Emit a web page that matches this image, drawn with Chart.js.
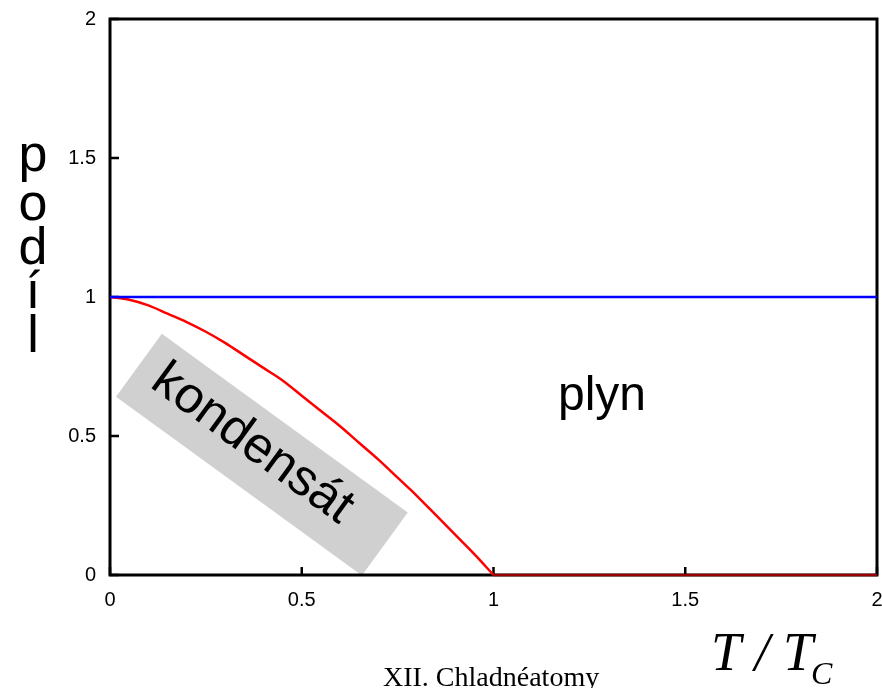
<!DOCTYPE html>
<html>
<head>
<meta charset="utf-8">
<script src="https://cdn.jsdelivr.net/npm/chart.js@4.4.1/dist/chart.umd.min.js"></script>
<style>
  html, body { margin: 0; padding: 0; background: #fff; }
  #wrap { width: 882px; height: 688px; position: relative; }
</style>
</head>
<body>
<div id="wrap"><canvas id="chart"></canvas></div>
<script>
// podíl kondenzátu pod Tc
const condT = [0, 0.05, 0.1, 0.15, 0.2, 0.25, 0.3, 0.35, 0.4, 0.45, 0.5,
               0.55, 0.6, 0.65, 0.7, 0.75, 0.8, 0.85, 0.9, 0.95, 1.0];
const condFrac = [1.00, 0.99, 0.97, 0.94, 0.91, 0.875, 0.835, 0.79, 0.745, 0.70, 0.645,
                  0.59, 0.535, 0.475, 0.415, 0.35, 0.285, 0.215, 0.145, 0.075, 0.00];
// nad Tc je kondenzát nulový
const aboveT = [1, 2];
const aboveFrac = [0, 0];
// celkový podíl
const totalT = [0, 2];
const totalFrac = [1, 1];

const axisTicks = [0, 0.5, 1, 1.5, 2];
const yLetters = ['p', 'o', 'd', 'í', 'l'];

const zip = (xs, ys) => xs.map((x, i) => ({ x: x, y: ys[i] }));

const sans = '"Liberation Sans", Arial, sans-serif';
const serif = '"Liberation Serif", "Times New Roman", serif';

const framePlugin = {
    id: 'frame',
    beforeDatasetsDraw(chart) {
        const { ctx, chartArea: a, scales } = chart;
        // šedý štítek "kondensát" (pod rámem)
        const cx = scales.x.getPixelForValue(0.396);
        const cy = scales.y.getPixelForValue(0.433);
        ctx.save();
        ctx.translate(cx, cy);
        ctx.rotate(36 * Math.PI / 180);
        ctx.fillStyle = '#d0d0d0';
        ctx.fillRect(-152, -39, 304, 78);
        ctx.restore();

        ctx.save();
        ctx.strokeStyle = '#000';
        ctx.lineWidth = 3;
        ctx.strokeRect(a.left, a.top, a.right - a.left, a.bottom - a.top);
        ctx.lineWidth = 2.5;
        ctx.beginPath();
        axisTicks.forEach(v => {
            const px = scales.x.getPixelForValue(v);
            ctx.moveTo(px, a.bottom);
            ctx.lineTo(px, a.bottom - 8);
            const py = scales.y.getPixelForValue(v);
            ctx.moveTo(a.left, py);
            ctx.lineTo(a.left + 9, py);
        });
        ctx.stroke();
        ctx.restore();
    },
    afterDraw(chart) {
        const { ctx, scales } = chart;
        ctx.save();
        ctx.fillStyle = '#000';

        // kondensát
        const cx = scales.x.getPixelForValue(0.396);
        const cy = scales.y.getPixelForValue(0.433);
        ctx.save();
        ctx.translate(cx, cy);
        ctx.rotate(36 * Math.PI / 180);
        ctx.font = '51px ' + sans;
        ctx.textAlign = 'center';
        ctx.textBaseline = 'middle';
        ctx.fillText('kondensát', -14, -3);
        ctx.restore();

        // plyn
        ctx.font = '48px ' + sans;
        ctx.textAlign = 'center';
        ctx.textBaseline = 'alphabetic';
        ctx.fillText('plyn', scales.x.getPixelForValue(1.283), scales.y.getPixelForValue(0.594));

        // svislý popisek osy y
        ctx.font = '52px ' + sans;
        const baselines = [171, 220, 264, 308, 352];
        yLetters.forEach((ch, i) => ctx.fillText(ch, 33, baselines[i]));

        // T / T_C
        ctx.textAlign = 'left';
        ctx.font = 'italic 54px ' + serif;
        ctx.fillText('T / T', 711, 670);
        ctx.font = 'italic 32px ' + serif;
        ctx.fillText('C', 811, 684);

        // spodní titulek
        ctx.font = '28px ' + serif;
        ctx.fillText('XII. Chladnéatomy', 383, 686);
        ctx.restore();
    }
};

new Chart(document.getElementById('chart'), {
    type: 'line',
    data: {
        datasets: [
            {
                label: 'celkem',
                data: zip(totalT, totalFrac),
                borderColor: '#0000ff',
                borderWidth: 2.5,
                pointRadius: 0,
                clip: false
            },
            {
                label: 'kondensát',
                data: zip(condT, condFrac),
                borderColor: '#ff0000',
                borderWidth: 2.5,
                pointRadius: 0,
                tension: 0.4,
                cubicInterpolationMode: 'monotone',
                clip: false
            },
            {
                label: 'kondensát nad Tc',
                data: zip(aboveT, aboveFrac),
                borderColor: '#990000',
                borderWidth: 2.5,
                pointRadius: 0,
                clip: false
            }
        ]
    },
    options: {
        responsive: true,
        maintainAspectRatio: false,
        animation: false,
        devicePixelRatio: 1,
        layout: { padding: { left: 0, top: 19, right: 5, bottom: 0 } },
        plugins: { legend: { display: false }, tooltip: { enabled: false } },
        scales: {
            x: {
                type: 'linear',
                min: 0, max: 2,
                grid: { display: false, drawTicks: false },
                border: { display: false },
                ticks: {
                    stepSize: 0.5,
                    padding: 13,
                    color: '#000',
                    font: { family: sans, size: 20 },
                    callback: v => String(v)
                },
                afterFit: s => { s.height = 113; s.paddingLeft = 0; s.paddingRight = 0; }
            },
            y: {
                type: 'linear',
                min: 0, max: 2,
                grid: { display: false, drawTicks: false },
                border: { display: false },
                ticks: {
                    stepSize: 0.5,
                    padding: 14,
                    color: '#000',
                    font: { family: sans, size: 20 },
                    callback: v => String(v)
                },
                afterFit: s => { s.width = 110; s.paddingTop = 0; s.paddingBottom = 0; }
            }
        }
    },
    plugins: [framePlugin]
});
</script>
</body>
</html>
